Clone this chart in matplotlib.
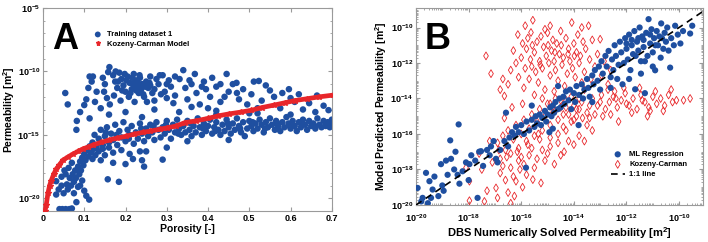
import numpy as np
import matplotlib
matplotlib.use("Agg")
import matplotlib.pyplot as plt
from matplotlib.ticker import FixedLocator, FuncFormatter, LogLocator, NullFormatter

plt.rcParams['font.family'] = ['Liberation Sans', 'DejaVu Sans']
plt.rcParams['font.weight'] = 'bold'
plt.rcParams['mathtext.fontset'] = 'custom'
plt.rcParams['mathtext.rm'] = 'Liberation Sans:bold'
plt.rcParams['mathtext.bf'] = 'Liberation Sans:bold'
plt.rcParams['mathtext.it'] = 'Liberation Sans:bold'

BLUE = '#1f4fa0'
RED = '#e8262a'

# ---- panel A: (porosity, log10 permeability) ----
a_upper = [(0.054,-11.7),(0.06,-12.6),(0.113,-10.4),(0.121,-10.4),(0.118,-10.8),(0.105,-12.2),(0.1,-12.65),
           (0.113,-13.7),(0.082,-13.9),(0.081,-14.6),(0.09,-13.2),(0.161,-9.66),(0.158,-10.05),(0.145,-10.5),
           (0.15,-11.0),(0.148,-11.6),(0.155,-12.1),(0.162,-12.6),(0.17,-10.3),(0.175,-10.8),(0.18,-11.3),
           (0.172,-11.9),(0.185,-10.1),(0.19,-10.6),(0.195,-11.1),(0.2,-11.6),(0.188,-12.3),(0.205,-10.4),
           (0.21,-10.9),(0.215,-11.4),(0.208,-12.0),(0.22,-10.2),(0.225,-10.7),(0.228,-11.2),(0.232,-11.7),
           (0.222,-12.4),(0.235,-10.5),(0.24,-11.0),(0.238,-11.4),(0.245,-12.0),(0.25,-10.8),(0.255,-11.3),
           (0.26,-10.4),(0.265,-11.7),(0.27,-12.3),(0.275,-10.6),(0.283,-10.3),(0.29,-10.3),(0.28,-11.0),
           (0.295,-11.6),(0.3,-12.1),(0.305,-10.7),(0.31,-11.2),(0.32,-11.9),(0.331,-10.6),(0.34,-9.9),
           (0.345,-11.3),(0.35,-12.2),(0.36,-11.0),(0.368,-10.2),(0.372,-11.7),(0.38,-12.6),(0.39,-10.8),
           (0.395,-11.4),(0.405,-12.0),(0.41,-10.5),(0.42,-11.2),(0.43,-12.4),(0.445,-10.2),(0.45,-11.6),
           (0.46,-11.0),(0.469,-10.9),(0.475,-12.2),(0.485,-11.4),(0.495,-12.6),(0.505,-11.8),(0.511,-10.8),
           (0.523,-10.75),(0.53,-12.3),(0.55,-11.5),(0.56,-12.0),(0.575,-12.9),(0.596,-11.4),(0.61,-12.4),
           (0.63,-13.0),(0.645,-12.5),(0.664,-11.9),(0.68,-12.7),(0.692,-13.05),(0.27,-13.0),(0.33,-13.2),
           (0.42,-13.1),(0.5,-13.3),(0.2,-13.2),(0.16,-13.4),(0.24,-13.6),(0.14,-12.9),(0.13,-11.6),
           (0.126,-12.4),(0.11,-11.3),(0.176,-10.0),(0.198,-10.2),(0.212,-11.7),(0.218,-11.0),(0.23,-10.9),
           (0.243,-11.8),(0.252,-12.4),(0.26,-11.1),(0.286,-11.8),(0.316,-12.5),(0.36,-12.8),(0.4,-12.9),
           (0.44,-12.0),(0.52,-12.9),(0.58,-11.7),(0.62,-11.8),(0.202,-10.7),(0.226,-11.5),(0.234,-10.3),
           (0.248,-11.2),(0.216,-10.5),(0.192,-11.5),(0.182,-10.8),(0.258,-10.9),(0.27,-11.4),(0.3,-11.0),
           (0.32,-10.4),(0.355,-10.7),(0.385,-11.2),(0.43,-11.0),(0.47,-11.7),(0.54,-11.1),(0.6,-12.1)]
a_band = [(0.12,-15.6),(0.125,-15.0),(0.13,-16.0),(0.135,-15.3),(0.14,-14.6),(0.145,-15.8),(0.15,-15.1),
          (0.155,-14.4),(0.16,-15.6),(0.165,-14.9),(0.17,-15.4),(0.175,-14.2),(0.18,-15.8),(0.185,-14.7),
          (0.19,-15.2),(0.195,-14.0),(0.2,-15.5),(0.205,-14.6),(0.21,-15.0),(0.215,-14.3),(0.22,-15.7),
          (0.225,-14.8),(0.23,-15.3),(0.235,-14.1),(0.24,-14.9),(0.245,-15.5),(0.25,-14.5),(0.255,-15.1),
          (0.26,-14.2),(0.265,-14.8),(0.27,-15.4),(0.275,-14.0),(0.28,-14.6),(0.285,-15.2),(0.29,-14.4),
          (0.295,-14.9),(0.3,-13.9),(0.305,-14.6),(0.31,-15.3),(0.315,-14.2),(0.32,-14.8),(0.325,-13.8),
          (0.33,-14.5),(0.335,-15.0),(0.34,-14.3),(0.345,-14.8),(0.35,-13.9),(0.355,-14.6),(0.36,-15.1),
          (0.365,-14.3),(0.37,-14.8),(0.375,-13.7),(0.38,-14.4),(0.385,-15.0),(0.39,-14.1),(0.395,-14.7),
          (0.4,-14.3),(0.405,-13.8),(0.41,-14.9),(0.415,-14.4),(0.42,-14.0),(0.425,-14.6),(0.43,-15.0),
          (0.435,-14.2),(0.44,-14.7),(0.445,-13.8),(0.45,-14.4),(0.455,-14.9),(0.46,-14.1),(0.465,-14.6),
          (0.47,-13.7),(0.475,-14.3),(0.48,-14.8),(0.485,-14.0),(0.489,-15.1),(0.495,-14.5),(0.5,-13.9),
          (0.505,-14.3),(0.51,-14.7),(0.515,-14.1),(0.52,-14.5),(0.525,-13.8),(0.53,-14.2),(0.535,-14.8),
          (0.54,-14.0),(0.545,-14.4),(0.55,-13.7),(0.555,-14.2),(0.562,-14.6),(0.565,-13.9),(0.57,-14.3),
          (0.575,-14.7),(0.58,-14.0),(0.585,-14.4),(0.59,-13.6),(0.595,-14.1),(0.6,-14.5),(0.605,-13.9),
          (0.61,-14.3),(0.615,-14.7),(0.62,-14.0),(0.625,-14.4),(0.63,-13.8),(0.635,-14.2),(0.64,-14.6),
          (0.645,-13.9),(0.65,-14.3),(0.655,-14.1),(0.66,-14.5),(0.665,-13.7),(0.67,-14.2),(0.675,-14.4),
          (0.68,-13.9),(0.685,-14.3),(0.69,-14.0),(0.695,-14.4),(0.7,-13.8),(0.7,-14.2),(0.35,-15.5),
          (0.45,-15.4),(0.3,-16.0),(0.25,-16.3),(0.42,-13.4),(0.52,-13.3),(0.6,-13.4),(0.66,-13.2),
          (0.152,-14.8),(0.178,-15.0),(0.208,-15.3),(0.238,-14.5),(0.268,-14.3),(0.298,-14.2),(0.328,-14.9),
          (0.358,-14.1),(0.388,-14.5),(0.418,-14.7),(0.448,-14.1),(0.478,-14.5),(0.508,-14.0),(0.538,-14.5),
          (0.568,-14.1),(0.598,-14.3),(0.628,-14.1),(0.658,-14.3),(0.688,-14.2)]
a_low = [(0.032,-18.65),(0.032,-19.7),(0.04,-20.85),(0.047,-20.85),(0.055,-20.85),(0.064,-20.85),(0.07,-20.8),
         (0.038,-19.3),(0.045,-19.0),(0.05,-19.6),(0.058,-18.9),(0.06,-19.3),(0.065,-18.4),(0.068,-19.0),
         (0.072,-18.1),(0.075,-18.7),(0.078,-17.8),(0.08,-18.4),(0.081,-20.3),(0.085,-17.5),(0.088,-18.1),
         (0.09,-17.1),(0.092,-17.8),(0.095,-16.8),(0.098,-17.4),(0.1,-19.4),(0.105,-19.8),(0.112,-20.1),
         (0.1,-16.5),(0.103,-17.0),(0.106,-16.2),(0.11,-16.7),(0.113,-15.9),(0.116,-16.4),(0.12,-16.9),
         (0.123,-16.1),(0.127,-16.6),(0.13,-15.8),(0.135,-16.3),(0.14,-17.0),(0.145,-16.1),(0.15,-16.6),
         (0.157,-18.5),(0.184,-18.7),(0.218,-16.9),(0.24,-17.0),(0.245,-17.5),(0.29,-16.95),(0.062,-17.6),
         (0.07,-17.2),(0.085,-19.1),(0.095,-18.6),(0.075,-19.6),(0.055,-18.1),(0.045,-18.3),(0.09,-19.0),
         (0.16,-16.0),(0.17,-16.4),(0.19,-16.2),(0.2,-17.3),(0.17,-17.2),(0.21,-16.5),(0.235,-16.3),
         (0.052,-17.8)]
kc_phi = [0.005,0.008,0.012,0.016,0.02,0.026,0.032,0.04,0.048,0.06,0.073,0.085,0.097,0.11,0.121,0.14,
          0.161,0.18,0.202,0.22,0.242,0.26,0.283,0.3,0.323,0.344,0.37,0.4,0.425,0.45,0.48,0.505,0.53,
          0.56,0.586,0.61,0.64,0.67,0.702]
kc_logk = [-21.0,-20.5,-19.6,-19.0,-18.6,-18.1,-17.7,-17.35,-17.0,-16.75,-16.5,-16.3,-16.1,-15.95,-15.8,
           -15.6,-15.4,-15.25,-15.1,-14.95,-14.8,-14.7,-14.56,-14.45,-14.3,-14.03,-13.9,-13.7,-13.5,-13.35,
           -13.2,-13.06,-12.85,-12.65,-12.47,-12.3,-12.15,-12.0,-11.87]

# ---- panel B: (log10 DBS permeability, log10 predicted permeability) ----
ml_pts = [(-19.94,-19.04),(-19.75,-19.6),(-19.62,-18.19),(-19.49,-18.66),(-19.43,-19.6),(-19.37,-19.13),
          (-19.3,-18.4),(-19.15,-19.5),(-19.05,-17.7),(-19.0,-18.9),(-18.86,-17.5),(-18.8,-18.3),(-18.7,-16.36),
          (-18.67,-17.4),(-18.55,-18.0),(-18.42,-18.3),(-18.38,-15.46),(-18.35,-18.8),(-18.23,-18.1),(-18.1,-17.6),
          (-17.97,-17.7),(-17.9,-17.2),(-17.75,-17.5),(-17.66,-19.6),(-17.53,-16.97),(-17.45,-17.8),(-17.3,-16.9),
          (-17.15,-16.7),(-17.05,-16.4),(-16.96,-17.4),(-16.9,-17.6),(-16.8,-16.9),(-16.64,-16.4),(-16.58,-14.8),
          (-16.5,-16.7),(-16.45,-16.2),(-16.35,-15.9),(-16.25,-16.1),(-16.2,-15.6),(-16.1,-15.9),(-15.82,-17.9),
          (-19.8,-19.8),(-19.55,-19.9),(-18.95,-19.2),(-18.5,-17.0),(-18.0,-18.6),(-17.6,-17.0),(-17.2,-17.2),
          (-16.0,-15.5),(-15.9,-16.0),(-15.8,-15.3),(-15.7,-15.8),(-15.6,-15.2),(-15.5,-15.6),(-15.45,-15.0),
          (-15.4,-15.4),(-15.3,-14.9),(-15.25,-15.5),(-15.2,-15.1),(-15.1,-14.7),(-15.05,-15.3),(-15.0,-14.9),
          (-14.93,-15.9),(-14.9,-14.5),(-14.85,-15.0),(-14.8,-14.4),(-14.75,-14.8),(-14.7,-14.2),(-14.6,-14.6),
          (-14.55,-14.0),(-14.5,-14.5),(-14.4,-13.9),(-14.35,-14.3),(-14.3,-13.6),(-14.2,-14.1),(-14.15,-13.5),
          (-14.1,-14.6),(-14.0,-13.7),(-13.95,-14.2),(-13.9,-13.3),(-13.82,-15.5),(-13.8,-13.8),(-13.7,-13.2),
          (-13.65,-14.0),(-13.6,-13.5),(-13.5,-12.9),(-13.45,-13.4),(-13.4,-13.9),(-13.3,-12.7),(-13.25,-13.2),
          (-13.2,-12.4),(-13.1,-13.0),(-13.05,-12.2),(-13.0,-13.5),(-12.95,-11.9),(-12.9,-12.6),(-12.8,-11.6),
          (-12.75,-12.2),(-12.68,-11.32),(-12.6,-12.8),(-12.55,-11.8),(-12.5,-12.4),(-12.45,-11.0),(-12.4,-11.6),
          (-12.3,-12.1),(-12.25,-10.8),(-12.2,-11.4),(-12.1,-12.0),(-12.05,-10.6),(-12.0,-11.2),(-11.95,-11.8),
          (-11.9,-10.4),(-11.85,-12.4),(-11.8,-11.0),(-11.75,-11.5),(-11.7,-10.2),(-11.67,-13.48),(-11.6,-10.8),
          (-11.55,-11.3),(-11.5,-10.0),(-11.45,-11.9),(-11.4,-10.5),(-11.35,-11.1),(-11.3,-13.7),(-11.25,-10.3),
          (-11.2,-11.6),(-11.16,-9.53),(-11.1,-10.9),(-11.05,-10.1),(-11.0,-11.4),(-10.95,-10.6),(-10.91,-12.41),
          (-10.85,-10.2),(-10.8,-11.0),(-10.75,-10.5),(-10.68,-9.77),(-10.6,-11.2),(-10.55,-10.3),(-10.5,-10.8),
          (-10.45,-10.0),(-10.34,-12.26),(-10.3,-10.6),(-10.2,-11.0),(-10.15,-9.9),(-10.05,-10.4),(-9.95,-10.9),
          (-9.85,-10.2),(-9.58,-10.34),(-9.5,-9.9),(-12.35,-12.9),(-12.15,-13.2),(-11.9,-12.9),(-12.6,-13.4),
          (-11.45,-12.6),(-11.0,-12.2),(-10.7,-11.7),(-13.3,-14.2),(-14.6,-13.3),(-14.8,-15.7),(-15.6,-14.4),
          (-11.65,-11.6),(-11.35,-10.7),(-11.1,-10.4),(-10.9,-11.0),(-11.55,-10.6),(-11.8,-10.7),(-12.0,-10.9),
          (-11.3,-11.9),(-10.65,-10.6),(-10.4,-11.3)]
kc_pts = [(-17.34,-11.6),(-17.15,-12.6),(-16.64,-13.86),(-16.5,-13.2),(-16.4,-12.4),(-16.3,-11.3),(-16.2,-12.0),
          (-16.13,-10.4),(-16.1,-12.8),(-16.0,-11.7),(-15.95,-10.9),(-15.9,-13.4),(-15.85,-12.3),(-15.8,-11.2),
          (-15.75,-10.6),(-15.7,-12.9),(-15.65,-11.8),(-15.63,-10.28),(-15.56,-9.59),(-15.5,-11.4),(-15.45,-12.5),
          (-15.4,-10.8),(-15.35,-13.1),(-15.3,-11.9),(-15.25,-10.5),(-15.2,-12.3),(-15.15,-11.1),(-15.1,-13.5),
          (-15.05,-11.6),(-15.0,-10.3),(-14.95,-12.0),(-14.9,-12.7),(-14.85,-11.3),(-14.8,-10.7),(-14.75,-11.9),
          (-14.7,-12.4),(-14.65,-10.9),(-14.6,-13.0),(-14.55,-11.5),(-14.5,-10.2),(-14.45,-12.1),(-14.4,-11.7),
          (-14.35,-13.3),(-14.3,-10.6),(-14.25,-12.6),(-14.2,-11.2),(-14.15,-11.9),(-14.08,-9.72),(-14.05,-12.3),
          (-14.0,-10.9),(-13.95,-12.8),(-13.9,-11.4),(-13.85,-10.4),(-13.8,-12.0),(-13.75,-11.6),(-13.7,-13.1),
          (-13.65,-10.8),(-13.6,-12.5),(-13.55,-11.2),(-13.44,-9.9),(-13.4,-11.8),(-13.35,-12.9),(-13.3,-10.7),
          (-13.2,-12.2),(-13.1,-11.5),(-13.0,-10.66),(-12.95,-12.7),(-12.85,-11.9),(-12.7,-13.2),(-12.6,-12.4),
          (-12.45,-13.6),(-15.58,-11.0),(-15.28,-12.1),(-14.98,-11.0),(-14.72,-11.4),(-14.48,-11.0),(-14.22,-11.5),
          (-13.98,-11.6),(-15.6,-12.2),(-16.7,-12.9),(-16.8,-13.5),(-14.9,-9.9),(-15.1,-10.1),(-13.7,-10.0),
          (-15.85,-9.9),
          (-14.9,-14.3),(-14.7,-14.7),(-14.5,-14.1),(-14.3,-14.5),(-14.1,-13.9),(-13.9,-14.6),(-13.7,-14.2),
          (-13.5,-14.8),(-13.3,-14.0),(-13.1,-14.4),(-12.95,-13.8),(-12.8,-14.6),(-12.65,-14.2),(-12.5,-13.9),
          (-12.35,-14.5),(-12.2,-14.1),(-12.05,-13.7),(-11.9,-14.4),(-11.75,-14.0),(-11.6,-14.6),(-11.45,-13.8),
          (-11.3,-14.2),(-11.15,-14.5),(-11.0,-13.9),(-10.85,-14.3),(-10.7,-14.0),(-10.55,-14.4),(-10.4,-13.8),
          (-10.25,-14.2),(-10.1,-14.1),(-9.83,-14.1),(-9.58,-14.0),(-12.9,-15.0),(-12.6,-14.9),(-11.8,-14.8),
          (-11.1,-14.7),(-13.4,-15.1),(-12.1,-13.4),(-11.5,-13.4),(-10.9,-13.6),(-12.7,-13.5),(-13.6,-13.5),
          (-13.2,-14.9),(-14.0,-15.2),(-12.3,-15.3),(-11.2,-15.0),(-10.6,-14.7),(-10.3,-13.5),(-12.0,-14.3),
          (-11.4,-14.1),(-12.4,-14.0),(-13.0,-14.2),(-13.8,-14.0),(-14.4,-14.9),
          (-16.9,-16.5),(-16.8,-17.4),(-16.7,-16.1),(-16.6,-16.9),(-16.5,-15.8),(-16.4,-17.1),(-16.3,-16.3),
          (-16.2,-15.5),(-16.1,-16.8),(-16.0,-16.0),(-15.9,-15.2),(-15.8,-16.4),(-15.7,-15.7),(-15.6,-14.9),
          (-15.5,-16.1),(-15.4,-15.3),(-15.3,-14.6),(-15.2,-15.8),(-15.1,-15.0),(-15.0,-14.3),(-14.9,-15.5),
          (-14.8,-14.8),(-14.7,-14.0),(-14.6,-15.2),(-14.5,-14.5),(-14.4,-15.6),(-14.3,-14.1),(-14.2,-14.9),
          (-14.1,-15.3),(-14.0,-14.4),(-13.9,-15.0),(-13.8,-14.6),(-13.67,-15.1),(-13.5,-15.5),(-13.4,-14.4),
          (-13.3,-15.8),(-16.64,-15.1),(-16.35,-14.5),(-15.95,-14.3),(-15.5,-13.8),(-15.2,-14.0),(-14.75,-13.6),
          (-16.0,-17.3),(-15.6,-16.8),(-15.3,-16.3),(-14.9,-16.2),(-14.6,-16.0),(-14.3,-15.8),
          (-17.97,-19.76),(-17.97,-18.66),(-17.5,-18.0),(-17.3,-19.2),(-17.1,-17.6),(-16.96,-19.04),(-16.9,-19.6),
          (-16.8,-18.2),(-16.7,-17.8),(-16.6,-18.6),(-16.5,-19.3),(-16.4,-17.9),(-16.3,-18.4),(-16.26,-19.5),
          (-16.2,-18.66),(-16.1,-17.5),(-16.05,-18.0),(-15.95,-19.0),(-15.9,-17.7),(-15.8,-18.3),(-15.7,-17.2),
          (-15.56,-18.57),(-15.5,-17.9),(-15.4,-17.4),(-15.25,-18.76),(-15.2,-16.9),(-15.1,-17.5),(-15.0,-17.1),
          (-14.9,-16.7),(-14.74,-17.7),(-14.6,-16.5),(-14.5,-17.2),(-14.37,-17.0),(-14.2,-16.4),(-14.0,-16.6),
          (-13.8,-16.1),(-13.6,-16.4),(-16.85,-16.9),(-16.55,-17.3),(-16.15,-17.0),(-15.75,-16.6),(-15.35,-16.0),
          (-17.6,-17.1),(-17.2,-16.4),(-18.1,-17.9),(-16.4,-19.9),(-17.4,-19.8)]


def pow_fmt(v, pos):
    return r'$\mathbf{10^{%d}}$' % int(round(np.log10(v)))


def style_axes(ax):
    for s in ax.spines.values():
        s.set_color('#9a9a9a')
        s.set_linewidth(0.8)
    ax.tick_params(which='both', direction='in', top=True, right=True, color='#9a9a9a',
                   labelsize=6.5, labelcolor='black', pad=2)
    ax.tick_params(which='major', length=3)
    ax.tick_params(which='minor', length=1.5)


fig = plt.figure(figsize=(7.08, 2.42), dpi=100)

# ---------------- panel A ----------------
ax1 = fig.add_axes([0.0607, 0.128, 0.408, 0.839])
pa = np.array(a_upper + a_band + a_low)
ax1.scatter(pa[:, 0], 10.0 ** pa[:, 1], s=22, color=BLUE, edgecolors='none', zorder=2,
            label='Training dataset 1')
ax1.plot(kc_phi, 10.0 ** np.array(kc_logk), color=RED, lw=3.4, zorder=3)
ax1.plot(kc_phi, 10.0 ** np.array(kc_logk), ls='none', marker='*', ms=4, color=RED, zorder=3,
         label='Kozeny-Carman Model')
ax1.set_yscale('log')
ax1.set_xlim(0, 0.7)
ax1.set_ylim(10.0 ** -21, 10.0 ** -5)
ax1.xaxis.set_major_locator(FixedLocator([0, 0.1, 0.2, 0.3, 0.4, 0.5, 0.6, 0.7]))
ax1.set_xticklabels(['0', '0.1', '0.2', '0.3', '0.4', '0.5', '0.6', '0.7'], fontweight='bold')
ax1.yaxis.set_major_locator(FixedLocator([1e-20, 1e-15, 1e-10, 1e-5]))
ax1.yaxis.set_major_formatter(FuncFormatter(pow_fmt))
ax1.yaxis.set_minor_locator(FixedLocator([10.0 ** k for k in range(-21, -4)]))
ax1.yaxis.set_minor_formatter(NullFormatter())
style_axes(ax1)
ax1.set_xlabel('Porosity [-]', fontsize=7.5, fontweight='bold', labelpad=1)
ax1.set_ylabel(r'Permeability [m$^{\mathbf{2}}$]', fontsize=7.5, fontweight='bold', labelpad=0)
ax1.text(0.03, 0.93, 'A', transform=ax1.transAxes, fontsize=26, fontweight='bold', va='top')
ax1.legend(loc='upper left', bbox_to_anchor=(0.15, 0.92), frameon=False, fontsize=5.5,
           handletextpad=0.6, labelspacing=0.3, handlelength=1.2, markerscale=0.9)

# ---------------- panel B ----------------
ax2 = fig.add_axes([0.5876, 0.153, 0.405, 0.814])
pm = np.array(ml_pts)
pk = np.array(kc_pts)
ax2.scatter(10.0 ** pm[:, 0], 10.0 ** pm[:, 1], s=20, color=BLUE, edgecolors='none', zorder=3,
            label='ML Regression')
ax2.scatter(10.0 ** pk[:, 0], 10.0 ** pk[:, 1], s=16, marker='d', facecolors='none',
            edgecolors=RED, linewidths=0.6, zorder=2, label='Kozeny-Carman')
ax2.plot([1e-20, 1e-9], [1e-20, 1e-9], 'k--', lw=1.2, dashes=(4, 3), zorder=4, label='1:1 line')
ax2.set_xscale('log')
ax2.set_yscale('log')
ax2.set_xlim(1e-20, 10.0 ** -9.1)
ax2.set_ylim(1e-20, 10.0 ** -8.9)
for axis in (ax2.xaxis, ax2.yaxis):
    axis.set_major_locator(FixedLocator([10.0 ** k for k in range(-20, -9, 2)]))
    axis.set_major_formatter(FuncFormatter(pow_fmt))
    axis.set_minor_locator(LogLocator(base=10, subs=np.arange(1, 10), numticks=50))
    axis.set_minor_formatter(NullFormatter())
style_axes(ax2)
ax2.tick_params(axis='x', which='major', pad=5)
ax2.set_xlabel(r'DBS Numerically Solved Permeability [m$^{\mathbf{2}}$]', fontsize=8,
               fontweight='bold', labelpad=1)
ax2.set_ylabel(r'Model Predicted Permeability [m$^{\mathbf{2}}$]', fontsize=7.5,
               fontweight='bold', labelpad=1)
ax2.text(0.03, 0.93, 'B', transform=ax2.transAxes, fontsize=26, fontweight='bold', va='top')
ax2.legend(loc='lower right', bbox_to_anchor=(0.97, 0.1), frameon=False, fontsize=5.5,
           handletextpad=0.6, labelspacing=0.35, handlelength=1.8)

fig.savefig('out.png', dpi=100)
